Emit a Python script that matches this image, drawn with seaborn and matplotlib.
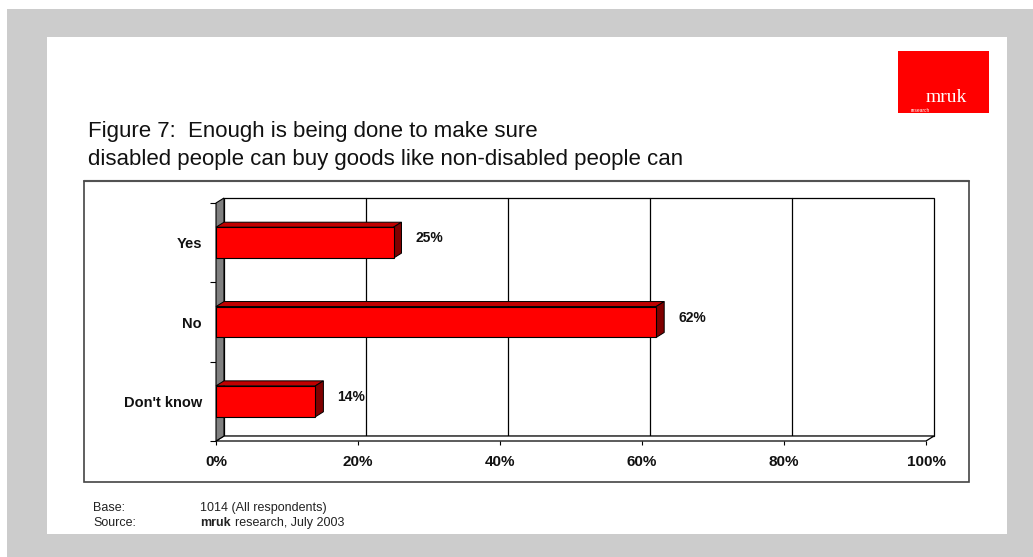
import numpy as np
import pandas as pd
import matplotlib
matplotlib.use("Agg")
import matplotlib.pyplot as plt
import seaborn as sns
from matplotlib.patches import Rectangle, Polygon
from matplotlib.lines import Line2D
from matplotlib.transforms import IdentityTransform
from matplotlib.ticker import PercentFormatter

# Chart data
categories = ["Yes", "No", "Don't know"]
values = [25, 62, 14]
x_ticks = [0, 20, 40, 60, 80, 100]

title_lines = [
    "Figure 7:  Enough is being done to make sure",
    "disabled people can buy goods like non-disabled people can",
]
base_text = "1014 (All respondents)"
source_text = "research, July 2003"

W, H = 1033, 557
DEPTH = np.array([8.0, 5.0])  # 3D offset in pixels (right, up)

sns.set_theme(style="white")
plt.rcParams["font.family"] = ["Liberation Sans", "DejaVu Sans"]

fig = plt.figure(figsize=(W / 100, H / 100), dpi=100, facecolor="white")


def fx(x):
    return x / W


def fy(y):
    return 1 - y / H


# page background + white panel
fig.patches.append(Rectangle((fx(7), 0), 1 - fx(7), fy(9), transform=fig.transFigure,
                             facecolor="#cccccc", edgecolor="none", zorder=-3))
fig.patches.append(Rectangle((fx(47), fy(534)), fx(1007) - fx(47), fy(37) - fy(534),
                             transform=fig.transFigure, facecolor="white", edgecolor="none", zorder=-2))
# chart frame
fig.patches.append(Rectangle((fx(84), fy(482)), fx(969) - fx(84), fy(181) - fy(482),
                             transform=fig.transFigure, facecolor="none", edgecolor="#444444",
                             linewidth=1.2, zorder=-1))
fig.add_artist(Line2D([fx(84), fx(969)], [fy(181), fy(181)], transform=fig.transFigure,
                      color="#999999", linewidth=1.6, zorder=-1))

# logo
fig.patches.append(Rectangle((fx(898), fy(113)), fx(989) - fx(898), fy(51) - fy(113),
                             transform=fig.transFigure, facecolor="#ff0000", edgecolor="none"))
fig.text(fx(946), fy(102), "mruk", color="white", fontsize=14, family="Liberation Serif",
         ha="center", va="baseline")
fig.text(fx(911), fy(107.5), "research", color="white", fontsize=3.5, ha="left", va="top")

# title
fig.text(fx(88), fy(137), title_lines[0], fontsize=16, va="baseline", color="#111111")
fig.text(fx(88), fy(165), title_lines[1], fontsize=16, va="baseline", color="#111111")

# plot (front plane of the 3D box)
ax = fig.add_axes([fx(216), fy(441), fx(926) - fx(216), fy(203) - fy(441)])
ax.set_facecolor("none")
df = pd.DataFrame({"answer": categories, "pct": values})
sns.barplot(data=df, x="pct", y="answer", orient="h", color="#ff0000", saturation=1,
            width=0.39, edgecolor="black", linewidth=0.8, ax=ax, zorder=5)
bars = list(ax.patches)
ax.set_xlim(0, 100)
ax.set_ylim(2.5, -0.5)
for s in ax.spines.values():
    s.set_visible(False)

ident = IdentityTransform()


def axpx(pts, shift=False):
    p = ax.transAxes.transform(pts)
    return p + DEPTH if shift else p


def datapx(pts, shift=False):
    p = ax.transData.transform(pts)
    return p + DEPTH if shift else p


# back wall
back = axpx([(0, 0), (1, 0), (1, 1), (0, 1)], shift=True)
ax.add_patch(Polygon(back, closed=True, facecolor="white", edgecolor="black", linewidth=0.9,
                     transform=ident, clip_on=False, zorder=0))
for t in x_ticks[1:-1]:
    gl = datapx([(t, 2.5), (t, -0.5)], shift=True)
    ax.add_line(Line2D(gl[:, 0], gl[:, 1], color="black", linewidth=0.9,
                       transform=ident, clip_on=False, zorder=1))

# floor
fl = np.vstack([axpx([(0, 0), (1, 0)]), axpx([(1, 0), (0, 0)], shift=True)])
ax.add_patch(Polygon(fl, closed=True, facecolor="white", edgecolor="black", linewidth=0.9,
                     transform=ident, clip_on=False, zorder=2))

# left side wall
sw = np.vstack([axpx([(0, 0), (0, 1)]), axpx([(0, 1), (0, 0)], shift=True)])
ax.add_patch(Polygon(sw, closed=True, facecolor="#808080", edgecolor="black", linewidth=0.8,
                     transform=ident, clip_on=False, zorder=3))

# bar top and side faces
for p in bars:
    a = datapx([(p.get_x(), p.get_y()), (p.get_x() + p.get_width(), p.get_y() + p.get_height())])
    left, right = a[:, 0].min(), a[:, 0].max()
    bot, top = a[:, 1].min(), a[:, 1].max()
    dx, dy = DEPTH
    ax.add_patch(Polygon([(left, top), (right, top), (right + dx, top + dy), (left + dx, top + dy)],
                         closed=True, facecolor="#c00000", edgecolor="black", linewidth=0.7,
                         transform=ident, clip_on=False, zorder=4))
    ax.add_patch(Polygon([(right, bot), (right, top), (right + dx, top + dy), (right + dx, bot + dy)],
                         closed=True, facecolor="#800000", edgecolor="black", linewidth=0.7,
                         transform=ident, clip_on=False, zorder=4))

# value labels
for i, v in enumerate(values):
    ax.annotate(f"{v}%", xy=(v, i), xytext=(16, 3), textcoords="offset points",
                ha="left", va="center", fontsize=10, fontweight="bold", color="#111111")

# axes ticks
ax.set_xticks(x_ticks)
ax.xaxis.set_major_formatter(PercentFormatter(decimals=0))
ax.set_yticks([-0.5, 0.5, 1.5, 2.5], minor=True)
ax.tick_params(axis="x", which="major", bottom=True, length=3, width=0.8, color="black",
               direction="out", pad=7, labelsize=11)
ax.tick_params(axis="y", which="major", left=False, length=0, pad=10, labelsize=10.5)
ax.tick_params(axis="y", which="minor", left=True, length=4, width=0.8, color="black",
               direction="out")
for lbl in ax.get_xticklabels() + ax.get_yticklabels():
    lbl.set_fontweight("bold")
    lbl.set_color("#111111")
ax.set_xlabel("")
ax.set_ylabel("")

# footer
fig.text(fx(93), fy(511), "Base:", fontsize=9, va="baseline", color="#222222")
fig.text(fx(200), fy(511), base_text, fontsize=9, va="baseline", color="#222222")
fig.text(fx(93), fy(526), "Source:", fontsize=9, va="baseline", color="#222222")
t_mruk = fig.text(fx(200), fy(526), "mruk", fontsize=9, fontweight="bold", va="baseline",
                  color="#222222")
ax.annotate(source_text, xy=(1, 0), xycoords=t_mruk, xytext=(3, 0), textcoords="offset points",
            ha="left", va="bottom", fontsize=9, color="#222222")

fig.savefig("out.png", dpi=100)
